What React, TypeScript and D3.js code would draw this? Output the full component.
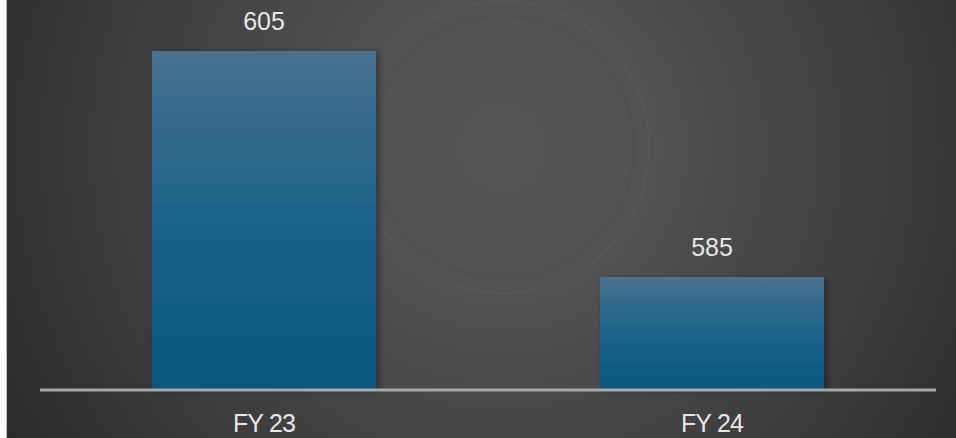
import React from "react";
import * as d3 from "d3";

const categories = ["FY 23", "FY 24"];
const values = [605, 585];
const yMin = 575;

const W = 956;
const H = 438;

export default function App() {
  const x = d3.scaleBand<string>().domain(categories).range([40, 936]).paddingInner(0.5).paddingOuter(0.25);
  const y = d3.scaleLinear().domain([yMin, 605]).range([390, 51]);
  const cx = 503, cy = 147;
  const rings = [
    { r: 131, c: "#4e4e4e", o: 0.6 },
    { r: 146, c: "#5b5b5b", o: 0.5 },
    { r: 210, c: "#4a4a4a", o: 0.25 },
    { r: 300, c: "#404040", o: 0.2 },
    { r: 400, c: "#363636", o: 0.2 },
  ];
  return (
    <svg width={W} height={H} style={{ position: "fixed", left: 0, top: 0 }}>
      <defs>
        <radialGradient id="bg" gradientUnits="userSpaceOnUse" cx={cx} cy={cy} r={620}>
          <stop offset="0" stopColor="#555555" />
          <stop offset="0.25" stopColor="#525252" />
          <stop offset="0.5" stopColor="#444444" />
          <stop offset="0.75" stopColor="#353535" />
          <stop offset="1" stopColor="#272727" />
        </radialGradient>
        <linearGradient id="bar" x1="0" y1="0" x2="0" y2="1">
          <stop offset="0" stopColor="#4a7190" />
          <stop offset="0.5" stopColor="#1b6389" />
          <stop offset="1" stopColor="#08577e" />
        </linearGradient>
        <filter id="sh" x="-10%" y="-10%" width="130%" height="130%">
          <feDropShadow dx="3" dy="1" stdDeviation="3" floodColor="#000" floodOpacity="0.35" />
        </filter>
      </defs>
      <rect x={0} y={0} width={W} height={H} fill="#ffffff" />
      <rect x={6} y={0} width={1.5} height={H} fill="#bdbdbd" />
      <rect x={7} y={0} width={W - 7} height={H} fill="url(#bg)" />
      {rings.map((d, i) => (
        <circle key={i} cx={cx} cy={cy} r={d.r} fill="none"
          stroke={d.c} strokeOpacity={d.o} strokeWidth={2} />
      ))}
      {categories.map((c, i) => (
        <g key={c}>
          <rect x={x(c)} y={y(values[i])} width={x.bandwidth()} height={y(yMin) - y(values[i])}
            fill="url(#bar)" filter="url(#sh)" />
          <text x={(x(c) as number) + x.bandwidth() / 2} y={y(values[i]) - 21} textAnchor="middle"
            fontFamily="Liberation Sans, Arial, sans-serif" fontSize={25} fill="#e6e6e6">
            {values[i]}
          </text>
          <text x={(x(c) as number) + x.bandwidth() / 2} y={432} textAnchor="middle"
            fontFamily="Liberation Sans, Arial, sans-serif" fontSize={25} letterSpacing={-0.8} fill="#e6e6e6">
            {c}
          </text>
        </g>
      ))}
      <line x1={40} x2={936} y1={y(yMin)} y2={y(yMin)} stroke="#a8a8a8" strokeWidth={3} />
    </svg>
  );
}
